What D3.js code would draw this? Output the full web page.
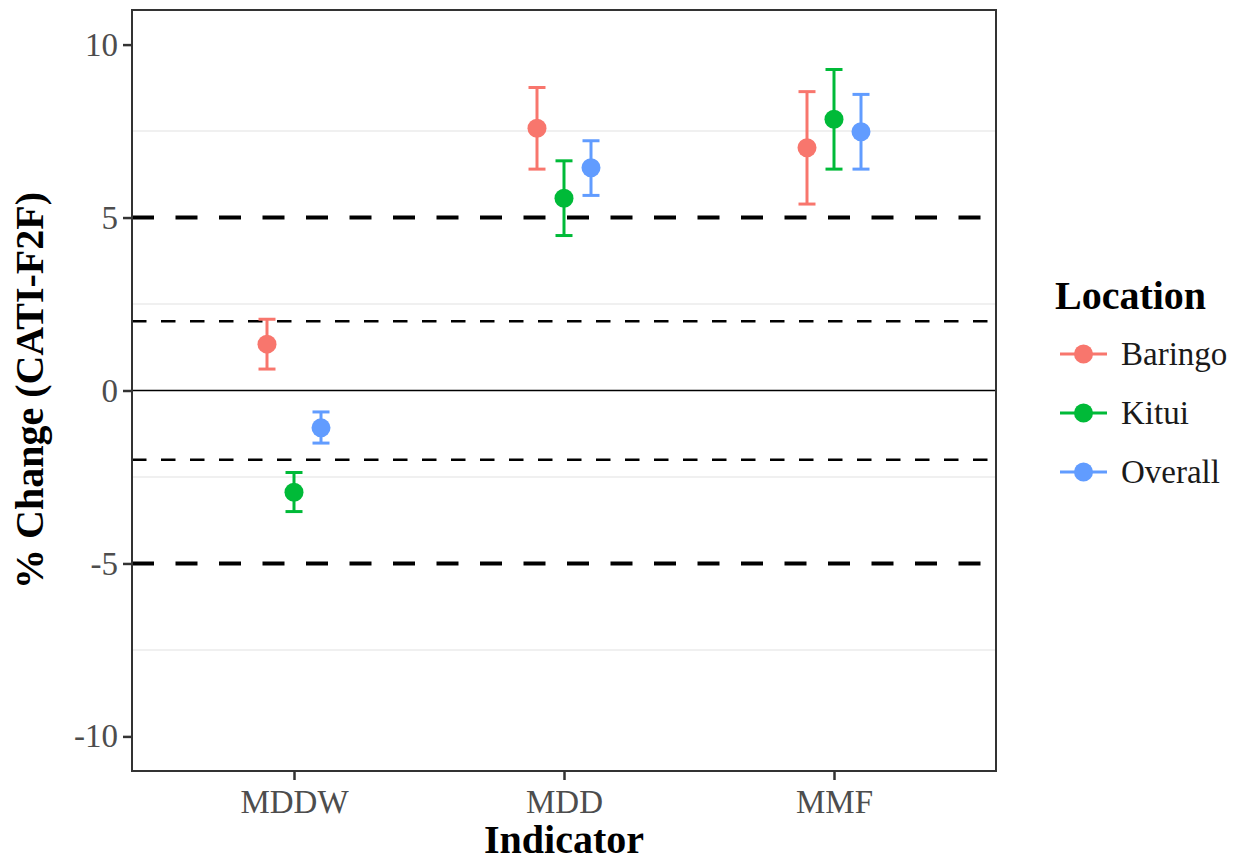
<!DOCTYPE html>
<html>
<head>
<meta charset="utf-8">
<script src="https://cdn.jsdelivr.net/npm/d3@7"></script>
<style>
  html, body { margin: 0; padding: 0; background: #fff; }
  svg { display: block; font-family: "Liberation Serif", "DejaVu Serif", serif; }
</style>
</head>
<body>
<svg id="chart" width="1246" height="863"></svg>
<script>
// ---- data ----
const categories = ["MDDW", "MDD", "MMF"];
const locations = ["Baringo", "Kitui", "Overall"];
const colors = ["#F8766D", "#00BA38", "#619CFF"];

const baringoMean = [1.34, 7.58, 7.02];
const baringoLow  = [0.62, 6.40, 5.39];
const baringoHigh = [2.06, 8.76, 8.64];

const kituiMean = [-2.94, 5.56, 7.84];
const kituiLow  = [-3.50, 4.48, 6.40];
const kituiHigh = [-2.37, 6.64, 9.28];

const overallMean = [-1.08, 6.44, 7.48];
const overallLow  = [-1.52, 5.64, 6.40];
const overallHigh = [-0.62, 7.22, 8.56];

const yTicks = [-10, -5, 0, 5, 10];
const yTickLabels = ["-10", "-5", "0", "5", "10"];
const minorGrid = [-7.5, -2.5, 2.5, 7.5];
const thickRefLines = [5, -5];
const thinRefLines = [2, -2];

// ---- build table ----
const seriesMeans = [baringoMean, kituiMean, overallMean];
const seriesLows = [baringoLow, kituiLow, overallLow];
const seriesHighs = [baringoHigh, kituiHigh, overallHigh];
const rows = [];
locations.forEach((loc, li) => {
  categories.forEach((cat, ci) => {
    rows.push({loc, li, cat, mean: seriesMeans[li][ci], lo: seriesLows[li][ci], hi: seriesHighs[li][ci]});
  });
});

// ---- layout ----
const svg = d3.select("#chart");
const P = {left: 132, right: 996, top: 10, bottom: 771};

const x = d3.scalePoint().domain(categories).range([P.left, P.right]).padding(0.6);
const step = x.step();
const dodge = d3.scaleLinear().domain([0, 2]).range([-0.1 * step, 0.1 * step]);
const y = d3.scaleLinear().domain([-11, 11]).range([P.bottom, P.top]);
const color = d3.scaleOrdinal().domain(locations).range(colors);

// panel background
svg.append("rect").attr("x", P.left).attr("y", P.top)
  .attr("width", P.right - P.left).attr("height", P.bottom - P.top).attr("fill", "#fff");

// minor grid
svg.append("g").selectAll("line").data(minorGrid).join("line")
  .attr("x1", P.left).attr("x2", P.right)
  .attr("y1", d => y(d)).attr("y2", d => y(d))
  .attr("stroke", "#EBEBEB").attr("stroke-width", 1.5);

// reference lines
svg.append("g").selectAll("line").data(thickRefLines).join("line")
  .attr("x1", P.left).attr("x2", P.right)
  .attr("y1", d => y(d)).attr("y2", d => y(d))
  .attr("stroke", "#000").attr("stroke-width", 4)
  .attr("stroke-dasharray", "22,21.5");
svg.append("g").selectAll("line").data(thinRefLines).join("line")
  .attr("x1", P.left).attr("x2", P.right)
  .attr("y1", d => y(d)).attr("y2", d => y(d))
  .attr("stroke", "#000").attr("stroke-width", 2.6)
  .attr("stroke-dasharray", "14.5,14.5");
// zero line
svg.append("line").attr("x1", P.left).attr("x2", P.right)
  .attr("y1", y(0)).attr("y2", y(0)).attr("stroke", "#000").attr("stroke-width", 1.6);

// error bars
const cap = 8.5;
const eb = svg.append("g").selectAll("g").data(rows).join("g")
  .attr("stroke", d => color(d.loc)).attr("stroke-width", 3);
eb.append("line")
  .attr("x1", d => x(d.cat) + dodge(d.li)).attr("x2", d => x(d.cat) + dodge(d.li))
  .attr("y1", d => y(d.lo)).attr("y2", d => y(d.hi));
eb.append("line")
  .attr("x1", d => x(d.cat) + dodge(d.li) - cap).attr("x2", d => x(d.cat) + dodge(d.li) + cap)
  .attr("y1", d => y(d.lo)).attr("y2", d => y(d.lo));
eb.append("line")
  .attr("x1", d => x(d.cat) + dodge(d.li) - cap).attr("x2", d => x(d.cat) + dodge(d.li) + cap)
  .attr("y1", d => y(d.hi)).attr("y2", d => y(d.hi));

// points
svg.append("g").selectAll("circle").data(rows).join("circle")
  .attr("cx", d => x(d.cat) + dodge(d.li)).attr("cy", d => y(d.mean))
  .attr("r", 9.5).attr("fill", d => color(d.loc));

// panel border
svg.append("rect").attr("x", P.left).attr("y", P.top)
  .attr("width", P.right - P.left).attr("height", P.bottom - P.top)
  .attr("fill", "none").attr("stroke", "#333").attr("stroke-width", 2);

// axes
const yAxis = svg.append("g").attr("transform", `translate(${P.left},0)`)
  .call(d3.axisLeft(y).tickValues(yTicks)
    .tickFormat((d, i) => yTickLabels[i])
    .tickSize(9).tickSizeOuter(0).tickPadding(5));
const xAxis = svg.append("g").attr("transform", `translate(0,${P.bottom})`)
  .call(d3.axisBottom(x).tickSize(9).tickSizeOuter(0).tickPadding(10));
[yAxis, xAxis].forEach(a => {
  a.select(".domain").remove();
  a.selectAll(".tick line").attr("stroke", "#333").attr("stroke-width", 2.5);
  a.selectAll(".tick text").attr("fill", "#4D4D4D")
    .style("font-family", "'Liberation Serif', serif").style("font-size", "33px");
});

// axis titles
svg.append("text").attr("x", (P.left + P.right) / 2).attr("y", 853)
  .attr("text-anchor", "middle").attr("font-weight", "bold").attr("font-size", 40)
  .attr("fill", "#000").text("Indicator");
svg.append("text").attr("transform", `translate(43,${(P.top + P.bottom) / 2}) rotate(-90)`)
  .attr("text-anchor", "middle").attr("font-weight", "bold").attr("font-size", 40)
  .attr("fill", "#000").text("% Change (CATI-F2F)");

// legend
const lg = svg.append("g");
lg.append("text").attr("x", 1055).attr("y", 309)
  .attr("font-weight", "bold").attr("font-size", 40).attr("fill", "#000").text("Location");
const legendY = d3.scalePoint().domain(locations).range([354, 472]);
const items = lg.selectAll("g.item").data(locations).join("g").attr("class", "item")
  .attr("transform", d => `translate(0,${legendY(d)})`);
items.append("line").attr("x1", 1060).attr("x2", 1107).attr("y1", 0).attr("y2", 0)
  .attr("stroke", d => color(d)).attr("stroke-width", 3);
items.append("circle").attr("cx", 1083.5).attr("cy", 0).attr("r", 9.5).attr("fill", d => color(d));
items.append("text").attr("x", 1121).attr("y", 0).attr("dy", "0.33em")
  .attr("font-size", 33).attr("fill", "#1a1a1a").text(d => d);
</script>
</body>
</html>
